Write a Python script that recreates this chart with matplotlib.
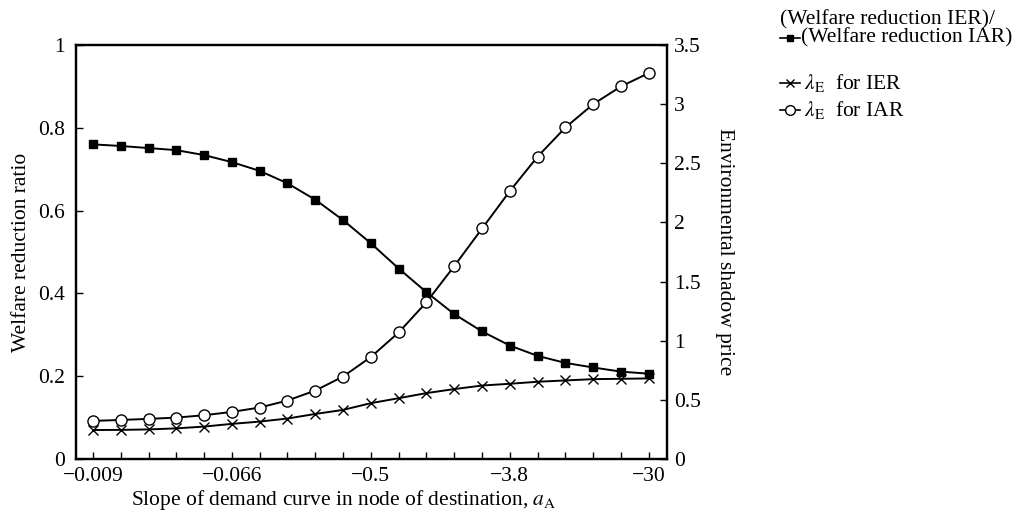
import matplotlib
matplotlib.use("Agg")
import matplotlib.pyplot as plt
from matplotlib.lines import Line2D

plt.rcParams['font.family'] = ['Liberation Serif', 'DejaVu Serif']
plt.rcParams['mathtext.fontset'] = 'stix'
plt.rcParams['font.size'] = 15.5

# slope of demand curve a_A (log-spaced), 21 points
slope = [-0.0088, -0.0132, -0.0198, -0.0297, -0.0446, -0.0668, -0.100, -0.150,
         -0.226, -0.338, -0.507, -0.761, -1.14, -1.71, -2.57, -3.85, -5.78,
         -8.67, -13.0, -19.5, -29.3]
tick_labels = ["\u22120.009", "\u22120.066", "\u22120.5", "\u22123.8", "\u221230"]

welfare_ratio = [0.760, 0.756, 0.751, 0.746, 0.734, 0.717, 0.696, 0.666, 0.626,
                 0.577, 0.521, 0.460, 0.403, 0.350, 0.308, 0.274, 0.249, 0.232,
                 0.221, 0.211, 0.206]
lam_ier = [0.245, 0.246, 0.250, 0.259, 0.274, 0.297, 0.316, 0.342, 0.381, 0.415,
           0.472, 0.514, 0.557, 0.591, 0.621, 0.636, 0.653, 0.664, 0.675, 0.678,
           0.681]
lam_iar = [0.322, 0.330, 0.339, 0.350, 0.370, 0.398, 0.435, 0.494, 0.579, 0.697,
           0.862, 1.070, 1.325, 1.630, 1.949, 2.265, 2.557, 2.803, 3.000, 3.150,
           3.263]

x = [-s for s in slope]

fig = plt.figure(figsize=(10.19, 5.17), dpi=100)
ax = fig.add_axes([0.0746, 0.1122, 0.58, 0.8008])
ax2 = ax.twinx()

ax.plot(x, welfare_ratio, color="black", lw=1.4, marker="s", ms=6)
ax2.plot(x, lam_ier, color="black", lw=1.4, marker="x", ms=7, mew=1.0)
ax2.plot(x, lam_iar, color="black", lw=1.4, marker="o", ms=8, mfc="white", mew=1.0)

ax.set_xscale("log")
ax.set_xlim(x[0] / 1.5**0.61, x[-1] * 1.5**0.65)
ax.set_xticks(x[::5])
ax.set_xticklabels(tick_labels)
ax.set_xticks(x, minor=True)
ax.xaxis.set_minor_formatter(plt.NullFormatter())

ax.set_ylim(0, 1)
ax.set_yticks([0, 0.2, 0.4, 0.6, 0.8, 1])
ax.set_yticklabels(["0", "0.2", "0.4", "0.6", "0.8", "1"])
ax2.set_ylim(0, 3.5)
ax2.set_yticks([0, 0.5, 1, 1.5, 2, 2.5, 3, 3.5])
ax2.set_yticklabels(["0", "0.5", "1", "1.5", "2", "2.5", "3", "3.5"])

ax.tick_params(axis="x", which="both", direction="in", length=5, width=1, pad=6)
ax.tick_params(axis="y", direction="in", length=5, width=1, pad=8)
ax2.tick_params(axis="y", direction="in", length=5, width=1, pad=5)
for a in (ax, ax2):
    for sp in a.spines.values():
        sp.set_linewidth(1.6)

ax.set_xlabel("Slope of demand curve in node of destination, $a_{\\mathrm{A}}$", va="center")
ax.xaxis.set_label_coords(0.453, -0.099)
ax.set_ylabel("Welfare reduction ratio", va="center")
ax.yaxis.set_label_coords(-0.0914, 0.5)
ax2.set_ylabel("Environmental shadow price", rotation=270, va="center")
ax2.yaxis.set_label_coords(1.098, 0.5)

# legend, drawn in figure pixels
W, H = 1019, 517
def key(ypix, marker, mfc, ms):
    fig.add_artist(Line2D([780 / W, 800 / W], [1 - ypix / H] * 2, color="black",
                          lw=1.2, transform=fig.transFigure))
    fig.add_artist(Line2D([790 / W], [1 - ypix / H], color="black", marker=marker,
                          mfc=mfc, ms=ms, mew=1.0, transform=fig.transFigure))

key(38, "s", "black", 5)
key(83, "x", "black", 6)
key(110, "o", "white", 7)
fig.text(780 / W, 1 - 20 / H, "(Welfare reduction IER)/", va="center", ha="left")
fig.text(801 / W, 1 - 38 / H, "(Welfare reduction IAR)", va="center", ha="left")
fig.text(804 / W, 1 - 83 / H, "$\\lambda_{\\mathrm{E}}$  for IER", va="center", ha="left")
fig.text(804 / W, 1 - 110 / H, "$\\lambda_{\\mathrm{E}}$  for IAR", va="center", ha="left")

fig.savefig("out.png", dpi=100)
